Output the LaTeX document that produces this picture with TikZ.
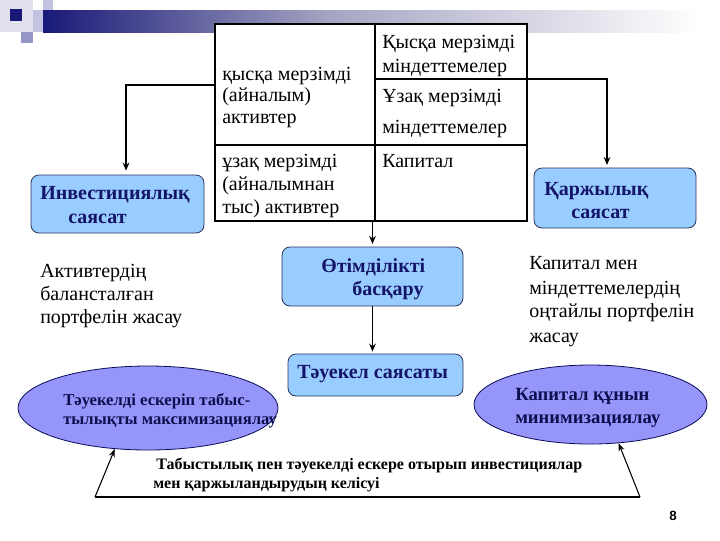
\documentclass[tikz,border=0pt]{standalone}
\usepackage{fontspec}
\setmainfont{Liberation Serif}
\setsansfont{Liberation Sans}
\usetikzlibrary{shapes.geometric,arrows.meta}
\definecolor{boxfill}{RGB}{153,204,255}
\definecolor{boxline}{RGB}{40,50,90}
\definecolor{boxtext}{RGB}{20,20,105}
\definecolor{ovalfill}{RGB}{150,150,250}
\definecolor{ovalline}{RGB}{10,10,90}
\definecolor{ovaltext}{RGB}{15,15,80}
\definecolor{barnavy}{RGB}{25,25,120}
\definecolor{bargrey}{RGB}{165,165,195}
\definecolor{sqpale}{RGB}{225,225,238}
\definecolor{sqmid}{RGB}{150,150,200}
\definecolor{sqlight}{RGB}{195,195,225}
\begin{document}
\begin{tikzpicture}[x=0.75pt,y=-0.75pt,
  tabtxt/.style={anchor=base west,inner sep=0,font=\fontsize{15}{17}\selectfont},
  boxtxt/.style={anchor=base west,inner sep=0,text=boxtext,font=\fontsize{15}{17}\selectfont\bfseries},
  ovtxt/.style={anchor=base west,inner sep=0,text=ovaltext,font=\fontsize{12.5}{14}\selectfont\bfseries},
  ovtxtb/.style={anchor=base west,inner sep=0,text=ovaltext,font=\fontsize{14}{16}\selectfont\bfseries},
  bottxt/.style={anchor=base west,inner sep=0,font=\fontsize{12}{14}\selectfont\bfseries},
  box/.style={draw=boxline,fill=boxfill,rounded corners=6pt,line width=0.6pt,inner sep=0},
  oval/.style={ellipse,draw=ovalline,fill=ovalfill,inner sep=0,line width=0.6pt},
  arr/.style={-{Stealth[length=6pt,width=5pt]},line width=1.1pt},
  arrthin/.style={-{Stealth[length=6pt,width=4.5pt]},line width=0.8pt}]
\useasboundingbox (0,0) rectangle (720,540);
% top decoration
\fill[sqpale] (0,0) rectangle (33,32);
\fill[sqlight] (33,10) rectangle (43,32);
\fill[sqlight] (43,0) rectangle (53,20);
\fill[sqmid] (21,32) rectangle (33,43);
\fill[barnavy] (10,9) rectangle (22,21);
\shade[left color=barnavy,right color=bargrey] (43,10) rectangle (330,32);
\shade[left color=bargrey,right color=white] (330,10) rectangle (700,32);
% table
\node[draw,fill=white,line width=1.5pt,minimum width=234pt,minimum height=147.75pt,inner sep=0] (tbl) at (371,122.5) {};
\draw[line width=0.8pt] (375,24) -- (375,221);
\draw[line width=0.8pt] (215,145) -- (527,145);
\draw[line width=0.8pt] (375,79) -- (527,79);
\node[tabtxt] (c1) at (222,80) {қысқа мерзімді};
\node[tabtxt] (c2) at (222,101) {(айналым)};
\node[tabtxt] (c3) at (222,123) {активтер};
\node[tabtxt] (c4) at (222,167) {ұзақ мерзімді};
\node[tabtxt] (c5) at (222,190) {(айналымнан};
\node[tabtxt] (c6) at (222,213) {тыс) активтер};
\node[tabtxt] (d1) at (382,48) {Қысқа мерзімді};
\node[tabtxt] (d2) at (382,72) {міндеттемелер};
\node[tabtxt] (d3) at (382,102) {Ұзақ мерзімді};
\node[tabtxt] (d4) at (382,133) {міндеттемелер};
\node[tabtxt] (d5) at (382,167) {Капитал};
% boxes
\node[box,minimum width=129.75pt,minimum height=43.5pt] (inv) at (117.5,204) {};
\node[box,minimum width=121.5pt,minimum height=45pt] (fin) at (615,198) {};
\node[box,minimum width=135.75pt,minimum height=44.25pt] (oti) at (372.5,276.5) {};
\node[box,minimum width=131.25pt,minimum height=31.5pt] (tau) at (375.5,375) {};
\node[boxtxt] (inv1) at (40,199) {Инвестициялық};
\node[boxtxt] (inv2) at (68,223) {саясат};
\node[boxtxt] (fin1) at (544,195) {Қаржылық};
\node[boxtxt] (fin2) at (571,218) {саясат};
\node[boxtxt] (oti1) at (321,272) {Өтімділікті};
\node[boxtxt] (oti2) at (352,295) {басқару};
\node[boxtxt] (tau1) at (297,378) {Тәуекел саясаты};
% plain texts
\node[tabtxt] (a1) at (40,277) {Активтердің};
\node[tabtxt] (a2) at (40,300) {балансталған};
\node[tabtxt] (a3) at (40,323) {портфелін жасау};
\node[tabtxt] (k1) at (529,269) {Капитал мен};
\node[tabtxt] (k2) at (529,294) {міндеттемелердің};
\node[tabtxt] (k3) at (529,317) {оңтайлы портфелін};
\node[tabtxt] (k4) at (529,342) {жасау};
% ellipses
\node[oval,minimum width=195pt,minimum height=63pt] (lel) at (148,408) {};
\node[oval,minimum width=174.75pt,minimum height=59.25pt] (rel) at (590.5,404.5) {};
\node[ovtxt] (l1) at (63,405) {Тәуекелді ескеріп табыс-};
\node[ovtxt] (l2) at (63,424) {тылықты максимизациялау};
\node[ovtxtb] (r1) at (515,400) {Капитал құнын};
\node[ovtxtb] (r2) at (515,423) {минимизациялау};
% bottom
\node[bottxt] (b1) at (156,469) {Табыстылық пен тәуекелді ескере отырып инвестициялар};
\node[bottxt] (b2) at (153,488) {мен қаржыландырудың келісуі};
\coordinate (bl) at (95,497);
\coordinate (br) at (640,497);
\draw[line width=0.8pt] (bl) -- (br);
\draw[arrthin] (bl) -- (lel.231);
\draw[arrthin] (br) -- (rel.306);
% arrows
\draw[arr,shorten >=3pt] (tbl.west |- 0,85) -| ([xshift=6.4pt]inv.north);
\draw[arr,shorten >=2pt] (tbl.east |- 0,79) -| ([xshift=-6pt]fin.north);
\draw[arr,shorten >=2pt] (tbl.south -| oti.north) -- (oti.north);
\draw[arr,shorten >=1.5pt] (oti.south) -- (oti.south |- tau.north);
\node[anchor=base,inner sep=0,font=\sffamily\bfseries\fontsize{10}{12}\selectfont] (pg) at (673,520) {8};
\end{tikzpicture}
\end{document}
